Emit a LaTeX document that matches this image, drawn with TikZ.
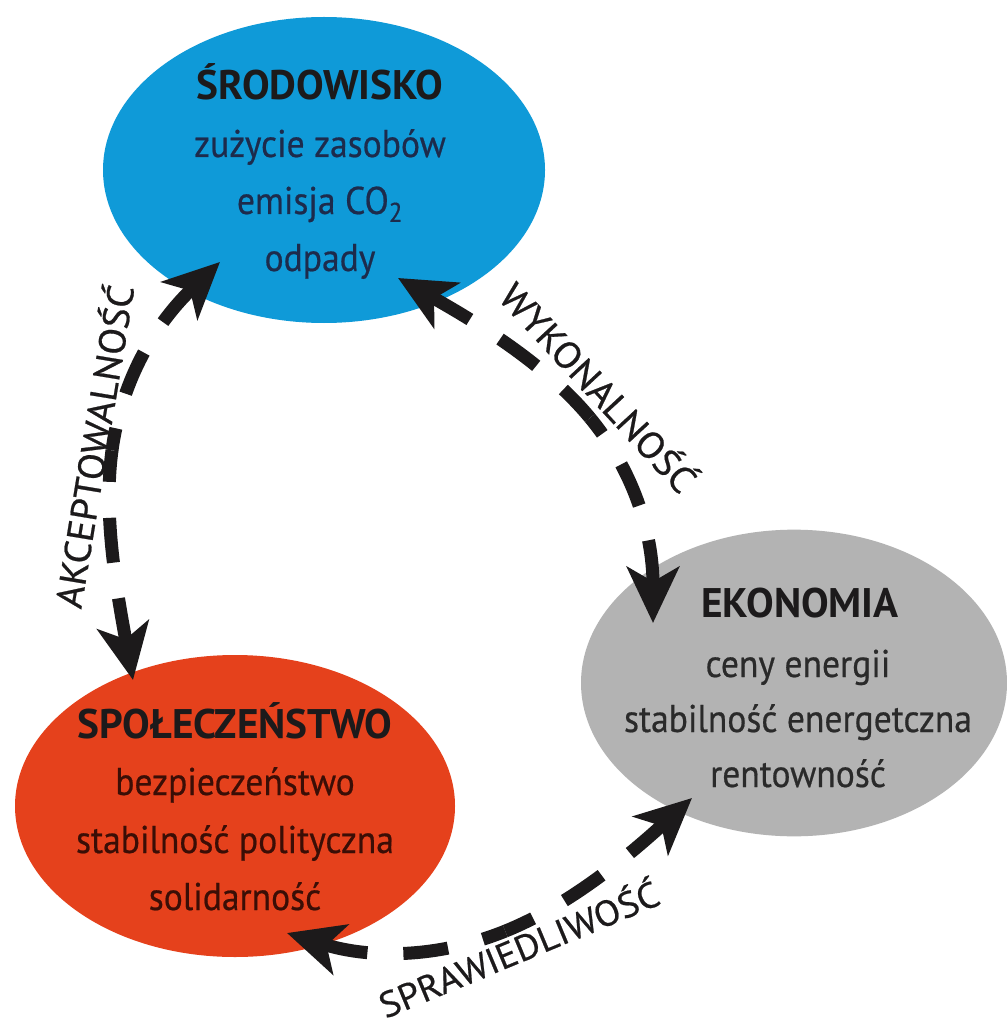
\documentclass[tikz,border=0pt]{standalone}
\usepackage{fontspec}
\setmainfont{PT Sans}
\newfontfamily\bodyfont{PT Sans}[FakeStretch=0.92,FakeBold=0.5]
\newfontfamily\titlefont{PT Sans}[FakeStretch=1.0]
\newfontfamily\labelfont{PT Sans}[FakeStretch=1.05,FakeBold=0.6]
\usetikzlibrary{arrows.meta,shapes.geometric}
\definecolor{envblue}{HTML}{0F9AD8}
\definecolor{socred}{HTML}{E5411C}
\definecolor{ecogray}{HTML}{B3B3B3}
\definecolor{inkdark}{HTML}{1C1A1B}
\definecolor{bluetxt}{HTML}{1D2B4C}
\definecolor{redtxt}{HTML}{3A0E06}
\definecolor{graytxt}{HTML}{2A2A2A}
\begin{document}
\begin{tikzpicture}[x=0.75pt,y=-0.75pt,
  blob/.style={ellipse, draw=none, inner sep=0pt},
  ttl/.style={anchor=base, text=inkdark, font=\titlefont\bfseries\fontsize{31}{31}\selectfont, inner sep=0pt},
  body/.style={anchor=base, font=\bodyfont\fontsize{29}{29}\selectfont, inner sep=0pt},
  lbl/.style={text=inkdark, font=\labelfont\fontsize{28}{28}\selectfont, inner sep=0pt},
  halfc/.style={draw=inkdark, line width=9.75pt, dash pattern=on 33.75pt off 27pt,
    {Stealth[length=42pt,width=39pt,inset=11pt]}-}]
\useasboundingbox[fill=white] (0,0) rectangle (1006,1023);
% ellipses
\node[blob, fill=envblue, minimum width=331.5pt, minimum height=229.5pt] (S) at (324,170) {};
\node[blob, fill=socred, minimum width=330pt, minimum height=226.5pt] (P) at (235,806) {};
\node[blob, fill=ecogray, minimum width=319.5pt, minimum height=230pt] (E) at (794,683) {};
% texts
\node[ttl] (S0) at (320,100) {ŚRODOWISKO};
\node[body, text=bluetxt] (S1) at (320,157) {zużycie zasobów};
\node[body, text=bluetxt] (S2) at (320,214) {emisja CO\textsubscript{2}};
\node[body, text=bluetxt] (S3) at (320,271) {odpady};
\node[ttl] (P0) at (235,738) {SPOŁECZEŃSTWO};
\node[body, text=redtxt] (P1) at (235,795) {bezpieczeństwo};
\node[body, text=redtxt] (P2) at (235,853) {stabilność polityczna};
\node[body, text=redtxt] (P3) at (235,910) {solidarność};
\node[ttl] (E0) at (800,617) {EKONOMIA};
\node[body, text=graytxt] (E1) at (798,677) {ceny energii};
\node[body, text=graytxt] (E2) at (798,732) {stabilność energetczna};
\node[body, text=graytxt] (E3) at (798,787) {rentowność};
% arrow end points and connector midpoints
\coordinate (a1) at (220,262);
\coordinate (a2) at (133,680);
\coordinate (am) at (112,450.4);
\coordinate (b1) at (398,278);
\coordinate (b2) at (653,623);
\coordinate (bm) at (590,417.9);
\coordinate (c1) at (287,933);
\coordinate (c2) at (692,798);
\coordinate (cm) at (505.25,931.1);
% connectors (each drawn from both tips towards its middle)
\draw[halfc] (a1) .. controls (151,328) and (120.75,385.75) .. (am);
\draw[halfc] (a2) .. controls (116,586.5) and (103.25,515) .. (am);
\draw[halfc] (b1) .. controls (484,326.5) and (547.75,366.75) .. (bm);
\draw[halfc] (b2) .. controls (653,531) and (632.25,469) .. (bm);
\draw[halfc] (c1) .. controls (374.5,960) and (442.5,956.5) .. (cm);
\draw[halfc] (c2) .. controls (625.5,858.5) and (568,905.75) .. (cm);
% labels
\node[lbl, rotate=80.6] (L1) at (92,446) {AKCEPTOWALNOŚĆ};
\node[lbl, rotate=-47.2] (L2) at (600,386) {WYKONALNOŚĆ};
\node[lbl, rotate=22.6, font=\labelfont\fontsize{27}{27}\selectfont] (L3) at (518,947) {SPRAWIEDLIWOŚĆ};
\end{tikzpicture}
\end{document}
